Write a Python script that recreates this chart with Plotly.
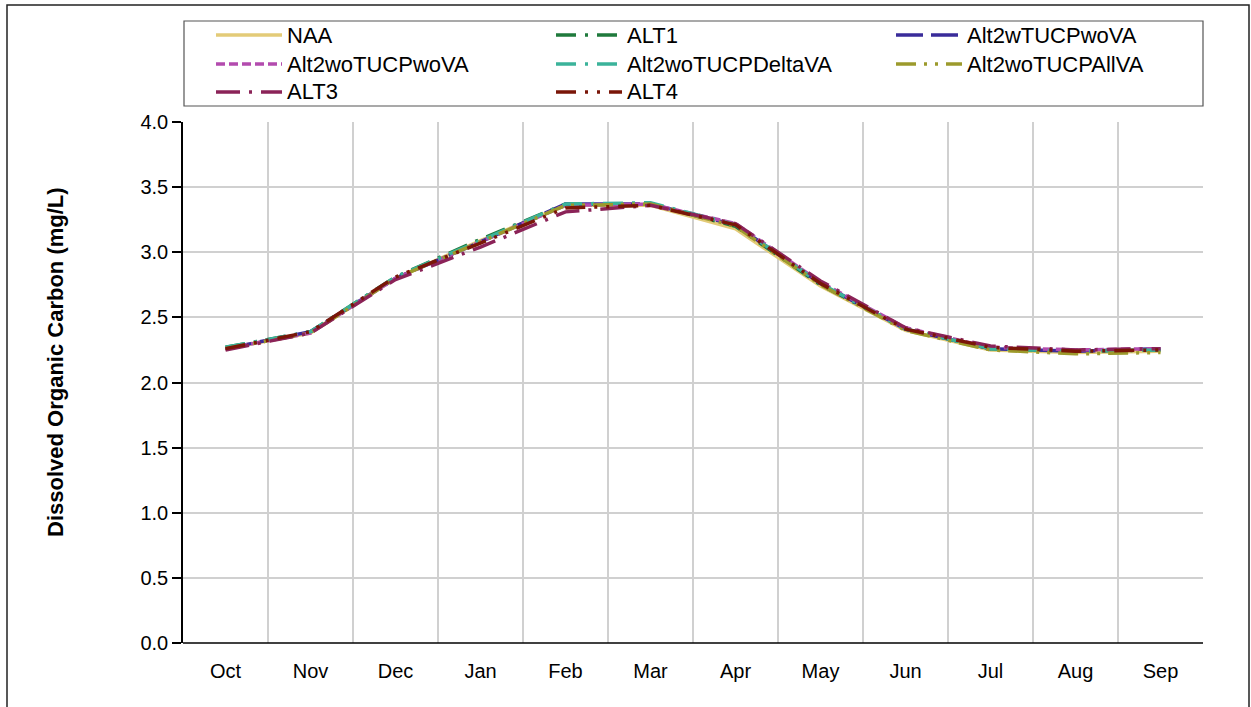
import plotly.graph_objects as go

# Monthly dissolved organic carbon (mg/L) by scenario, water year Oct-Sep
months = ["Oct", "Nov", "Dec", "Jan", "Feb", "Mar", "Apr", "May", "Jun", "Jul", "Aug", "Sep"]

naa = [2.26, 2.38, 2.80, 3.09, 3.36, 3.36, 3.18, 2.74, 2.40, 2.25, 2.23, 2.24]
alt1 = [2.27, 2.39, 2.81, 3.10, 3.37, 3.37, 3.20, 2.75, 2.41, 2.26, 2.24, 2.25]
alt2w_tucp_wova = [2.26, 2.39, 2.80, 3.08, 3.37, 3.37, 3.21, 2.76, 2.41, 2.26, 2.24, 2.26]
alt2wo_tucp_wova = [2.26, 2.38, 2.80, 3.08, 3.36, 3.37, 3.22, 2.77, 2.42, 2.27, 2.25, 2.26]
alt2wo_tucp_deltava = [2.27, 2.39, 2.81, 3.09, 3.37, 3.38, 3.21, 2.76, 2.41, 2.26, 2.24, 2.25]
alt2wo_tucp_allva = [2.26, 2.38, 2.80, 3.08, 3.36, 3.37, 3.20, 2.75, 2.40, 2.25, 2.22, 2.23]
alt3 = [2.25, 2.38, 2.79, 3.04, 3.31, 3.36, 3.22, 2.78, 2.42, 2.28, 2.25, 2.26]
alt4 = [2.26, 2.39, 2.81, 3.07, 3.34, 3.36, 3.21, 2.76, 2.41, 2.27, 2.24, 2.25]

series = [
    ("NAA", naa, "#E3CB78", "solid"),
    ("ALT1", alt1, "#1F7A3C", "20px,9px,3px,9px"),
    ("Alt2wTUCPwoVA", alt2w_tucp_wova, "#3A2C9A", "27px,8px"),
    ("Alt2woTUCPwoVA", alt2wo_tucp_wova, "#B34BAE", "9px,4px"),
    ("Alt2woTUCPDeltaVA", alt2wo_tucp_deltava, "#3BB39A", "20px,9px,3px,9px"),
    ("Alt2woTUCPAllVA", alt2wo_tucp_allva, "#9C9A2C", "20px,8px,3px,8px,3px,8px"),
    ("ALT3", alt3, "#8B2358", "24px,9px,3px,9px"),
    ("ALT4", alt4, "#7A1608", "20px,9px,3px,9px,3px,9px"),
]

xpos = list(range(len(months)))

# plot-area geometry in pixels, used to place the legend box, frame and axis title
W, H = 1251, 707
L, R, T, B = 183, 48, 122, 64
pw, ph = W - L - R, H - T - B


def px_x(px):
    return (px - L) / pw


def px_y(py):
    return (H - B - py) / ph


fig = go.Figure()
for name, vals, color, dash in series:
    fig.add_trace(go.Scatter(
        x=xpos, y=vals, name=name, mode="lines",
        line=dict(color=color, width=3.5, dash=dash),
        showlegend=False,
    ))

font_family = "Liberation Sans, Arial, sans-serif"

shapes = [
    # bottom axis line
    dict(type="line", xref="paper", yref="paper", x0=0, x1=1, y0=0, y1=0,
         line=dict(color="#000", width=1.5), layer="above"),
    # outer frame around the chart
    dict(type="rect", xref="paper", yref="paper",
         x0=px_x(7), x1=px_x(1249), y0=px_y(720), y1=px_y(5),
         line=dict(color="#222", width=1.5), layer="above"),
    # legend box
    dict(type="rect", xref="paper", yref="paper",
         x0=px_x(184), x1=px_x(1203), y0=px_y(106), y1=px_y(21),
         line=dict(color="#555", width=1.2), fillcolor="white", layer="above"),
]

# vertical y-axis title
annotations = [
    dict(xref="paper", yref="paper", x=px_x(55), y=px_y(362),
         xanchor="center", yanchor="middle", showarrow=False, textangle=-90,
         text="<b>Dissolved Organic Carbon (mg/L)</b>",
         font=dict(size=22, color="#000")),
]

# three-column legend: sample line followed by the series name
col_x = [216, 556, 896]
row_y = [35, 64, 92]
for i, (name, vals, color, dash) in enumerate(series):
    cx = col_x[i % 3]
    cy = row_y[i // 3]
    shapes.append(dict(type="line", xref="paper", yref="paper",
                       x0=px_x(cx), x1=px_x(cx + 66), y0=px_y(cy), y1=px_y(cy),
                       line=dict(color=color, width=3.5, dash=dash), layer="above"))
    annotations.append(dict(xref="paper", yref="paper", x=px_x(cx + 69), y=px_y(cy),
                            xanchor="left", yanchor="middle", showarrow=False,
                            text=name, font=dict(size=22, color="#000")))

fig.update_layout(
    width=W, height=H,
    margin=dict(l=L, r=R, t=T, b=B),
    paper_bgcolor="white", plot_bgcolor="white",
    font=dict(family=font_family, size=20, color="#000"),
    showlegend=False,
    xaxis=dict(
        range=[-0.5, 11.5], tickmode="array", tickvals=xpos, ticktext=months,
        showgrid=False, zeroline=False, showline=False,
        ticks="", ticklabelstandoff=14,
        minor=dict(tickmode="array", tickvals=[i + 0.5 for i in xpos],
                   showgrid=True, gridcolor="#D0D0D0", gridwidth=1.5, ticks=""),
    ),
    yaxis=dict(
        range=[0, 4], dtick=0.5, tickformat=".1f",
        showgrid=True, gridcolor="#D0D0D0", gridwidth=1.5,
        zeroline=False, showline=True, linecolor="#000", linewidth=1.5,
        ticks="outside", ticklen=9, tickcolor="#000", tickwidth=1.5,
    ),
    shapes=shapes,
    annotations=annotations,
)

fig.write_html("out.html")
